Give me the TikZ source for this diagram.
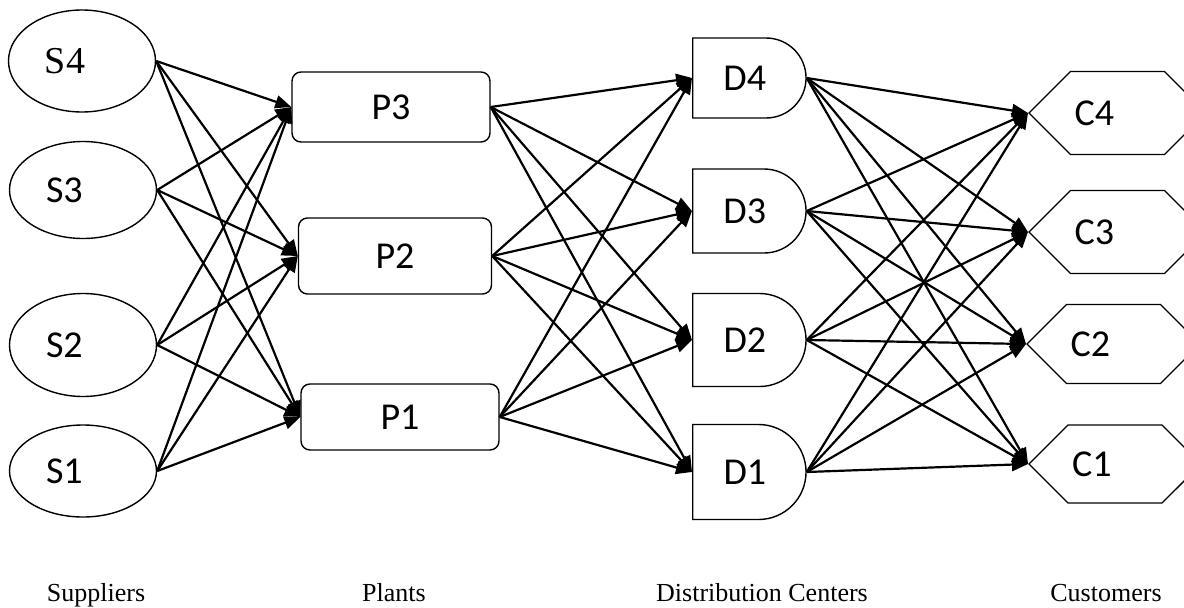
\documentclass[tikz,border=0pt]{standalone}
\usepackage{fontspec}
\setmainfont{Carlito}
\newfontfamily\timesfont{Liberation Serif}
\usetikzlibrary{arrows.meta,shapes.geometric,shapes.misc,shapes.symbols}

\begin{document}
\begin{tikzpicture}[x=1pt, y=1pt,
  every node/.style={font=\fontsize{38}{42}\selectfont},
  supplier/.style={draw, line width=1.4pt, ellipse, minimum width=147pt, minimum height=98pt, text width=74pt, align=left},
  plant/.style={draw, line width=1.4pt, rounded corners=9pt, minimum width=198pt, minimum height=70pt},
  depot/.style={draw, line width=1.4pt, rounded rectangle, rounded rectangle west arc=none, text width=50pt, align=left, minimum width=120pt, anchor=west},
  customer/.style={draw, line width=1.4pt, signal, signal to=west and east, inner xsep=4pt, text width=86pt, align=left, minimum height=83pt, anchor=west},
  flow/.style={line width=2.2pt, -{Triangle[length=16pt,width=13pt]}},
  caption/.style={font=\timesfont\fontsize{26}{30}\selectfont, anchor=base}]
  \useasboundingbox (0,0) rectangle (1184,-608);
  % suppliers
  \node[supplier, minimum height=102pt] (S4) at (82,-61) {\timesfont S4};
  \node[supplier, minimum height=97pt] (S3) at (83,-190) {S3};
  \node[supplier, minimum height=103pt] (S2) at (83,-345) {S2};
  \node[supplier, minimum height=92pt] (S1) at (83,-471) {S1};
  % plants
  \node[plant] (P3) at (391,-107) {P3};
  \node[plant, minimum width=193pt, minimum height=76pt] (P2) at (395,-256) {P2};
  \node[plant, minimum height=66pt] (P1) at (400,-417) {P1};
  % distribution centers
  \node[depot, minimum height=80pt] (D4) at (692,-78) {D4};
  \node[depot, minimum height=84pt] (D3) at (692,-211) {D3};
  \node[depot, minimum height=93pt] (D2) at (692,-340) {D2};
  \node[depot, minimum height=95pt] (D1) at (692,-472) {D1};
  % customers
  \node[customer] (C4) at (1028,-113) {C4};
  \node[customer] (C3) at (1028,-232) {C3};
  \node[customer, minimum height=79pt] (C2) at (1026,-344) {C2};
  \node[customer, minimum height=78pt] (C1) at (1028,-464) {C1};
  % flows, every node to every node of the next stage
  \foreach \s in {1,...,4}
    \foreach \p in {1,2,3}
      \draw[flow] (S\s.east) -- (P\p.west);
  \foreach \p in {1,2,3}
    \foreach \d in {1,...,4}
      \draw[flow] (P\p.east) -- (D\d.west);
  \foreach \d in {1,...,4}
    \foreach \c in {1,...,4}
      \draw[flow] (D\d.east) -- (C\c.west);
  % stage names
  \node[caption] (capS) at (96,-601) {Suppliers};
  \node[caption] (capP) at (394,-601) {Plants};
  \node[caption] (capD) at (762,-601) {Distribution Centers};
  \node[caption] (capC) at (1106,-601) {Customers};
\end{tikzpicture}
\end{document}
